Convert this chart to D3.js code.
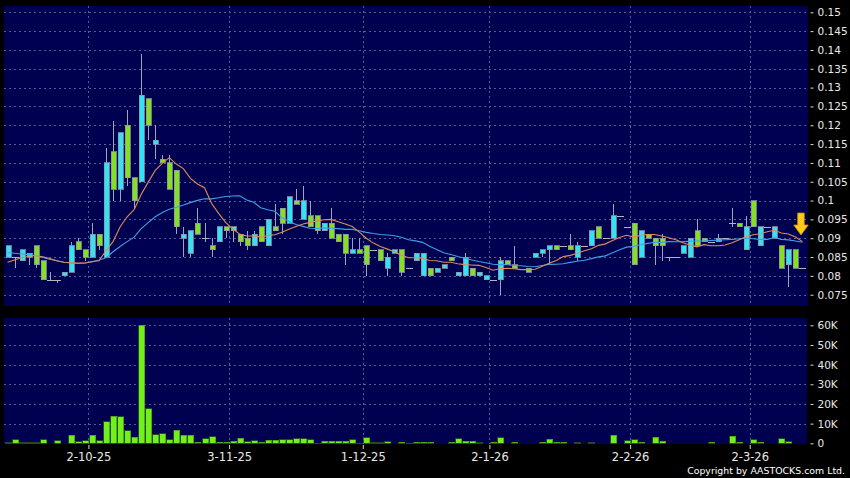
<!DOCTYPE html>
<html>
<head>
<meta charset="utf-8">
<script src="https://cdn.jsdelivr.net/npm/d3@7"></script>
<style>
  html, body { margin: 0; padding: 0; background: #000; }
  svg { display: block; }
</style>
</head>
<body>
<svg id="chart" width="850" height="478"></svg>
<script>
// daily candles (null = no candle that day)
const opens = [
  0.085, 0.085, 0.084, 0.085, 0.088, 0.084, 0.079, 0.079, 0.080, 0.081,
  0.089, 0.087, 0.085, 0.091, 0.085, 0.113, 0.103, 0.120, 0.106, 0.105,
  0.127, 0.115, 0.111, 0.110, 0.108, 0.090, 0.086, 0.094, 0.090, 0.088,
  0.089, 0.093, 0.092, 0.091, 0.090, 0.088, 0.093, 0.088, 0.093, 0.098,
  0.094, 0.100, 0.095, 0.096, 0.096, 0.092, 0.094, 0.091, 0.091, 0.086,
  0.087, 0.088, 0.087, 0.087, 0.082, 0.086, 0.087, 0.082, 0.084, 0.080,
  0.082, 0.081, 0.082, 0.085, 0.080, 0.080, 0.082, 0.080, 0.079, 0.079,
  0.079, 0.084, 0.083, null, 0.082, 0.085, 0.086, 0.087, 0.088, 0.088,
  0.088, 0.085, 0.088, 0.088, 0.093, 0.090, 0.090, 0.096, 0.093, 0.094,
  0.085, 0.091, 0.090, 0.090, 0.085, 0.085, 0.086, 0.085, 0.092, 0.090,
  0.089, 0.089, 0.090, 0.094, 0.094, 0.087, 0.100, 0.088, 0.093, 0.090,
  0.088, 0.083, 0.087, 0.082
];
const highs = [
  0.088, 0.085, 0.087, 0.086, 0.088, 0.084, 0.081, 0.079, 0.081, 0.089,
  0.090, 0.087, 0.094, 0.091, 0.114, 0.121, 0.118, 0.124, 0.106, 0.139,
  0.127, 0.120, 0.112, 0.112, 0.108, 0.093, 0.092, 0.098, 0.094, 0.090,
  0.093, 0.093, 0.093, 0.091, 0.092, 0.092, 0.093, 0.095, 0.099, 0.098,
  0.101, 0.103, 0.104, 0.100, 0.096, 0.094, 0.098, 0.091, 0.091, 0.090,
  0.090, 0.088, 0.087, 0.087, 0.086, 0.087, 0.087, 0.082, 0.086, 0.086,
  0.082, 0.082, 0.083, 0.085, 0.081, 0.086, 0.082, 0.081, 0.080, 0.079,
  0.085, 0.084, 0.088, null, 0.082, 0.086, 0.087, 0.088, 0.088, 0.088,
  0.091, 0.089, 0.088, 0.092, 0.093, 0.090, 0.099, 0.096, 0.093, 0.094,
  0.092, 0.091, 0.090, 0.091, 0.085, 0.085, 0.088, 0.090, 0.095, 0.090,
  0.089, 0.091, 0.090, 0.098, 0.094, 0.096, 0.100, 0.093, 0.093, 0.093,
  0.088, 0.087, 0.087, 0.082
];
const lows = [
  0.085, 0.082, 0.084, 0.083, 0.082, 0.079, 0.079, 0.078, 0.080, 0.081,
  0.087, 0.084, 0.085, 0.087, 0.085, 0.100, 0.100, 0.104, 0.098, 0.105,
  0.116, 0.111, 0.110, 0.103, 0.091, 0.085, 0.085, 0.091, 0.089, 0.085,
  0.089, 0.090, 0.089, 0.088, 0.087, 0.088, 0.089, 0.088, 0.092, 0.091,
  0.094, 0.099, 0.095, 0.093, 0.091, 0.092, 0.090, 0.089, 0.083, 0.086,
  0.086, 0.080, 0.087, 0.084, 0.080, 0.086, 0.080, 0.082, 0.084, 0.080,
  0.080, 0.081, 0.082, 0.084, 0.080, 0.080, 0.080, 0.080, 0.079, 0.079,
  0.075, 0.083, 0.082, null, 0.081, 0.085, 0.085, 0.083, 0.087, 0.088,
  0.087, 0.084, 0.088, 0.088, 0.090, 0.090, 0.090, 0.096, 0.093, 0.083,
  0.085, 0.090, 0.083, 0.084, 0.084, 0.085, 0.086, 0.085, 0.088, 0.089,
  0.089, 0.089, 0.090, 0.093, 0.093, 0.087, 0.093, 0.088, 0.093, 0.090,
  0.082, 0.077, 0.082, 0.082
];
const closes = [
  0.088, 0.085, 0.087, 0.086, 0.083, 0.079, 0.079, 0.079, 0.081, 0.088,
  0.087, 0.085, 0.091, 0.088, 0.110, 0.103, 0.118, 0.106, 0.100, 0.128,
  0.120, 0.116, 0.110, 0.103, 0.093, 0.091, 0.092, 0.091, 0.090, 0.087,
  0.093, 0.092, 0.093, 0.089, 0.088, 0.091, 0.089, 0.095, 0.092, 0.094,
  0.101, 0.099, 0.100, 0.093, 0.092, 0.094, 0.090, 0.089, 0.086, 0.087,
  0.086, 0.083, 0.087, 0.084, 0.085, 0.087, 0.081, 0.082, 0.086, 0.086,
  0.080, 0.082, 0.083, 0.084, 0.081, 0.085, 0.080, 0.081, 0.080, 0.079,
  0.084, 0.083, 0.082, null, 0.081, 0.086, 0.087, 0.088, 0.087, 0.088,
  0.087, 0.088, 0.088, 0.092, 0.090, 0.090, 0.096, 0.096, 0.093, 0.083,
  0.092, 0.090, 0.088, 0.088, 0.085, 0.085, 0.088, 0.090, 0.088, 0.089,
  0.089, 0.090, 0.090, 0.094, 0.093, 0.093, 0.093, 0.093, 0.093, 0.093,
  0.082, 0.087, 0.082, 0.082
];
// volume in thousands of shares
const volumes = [
  0.3, 1.7, 0.3, 0.2, 0.2, 1.7, 0, 1.4, 0, 4.2,
  0.7, 1.2, 4.1, 1.2, 11, 13.7, 13.4, 6.3, 3.2, 60,
  17.5, 4.4, 4.9, 1.9, 6.6, 4.2, 4.2, 0.5, 2.2, 3.4,
  0.5, 0.5, 1.0, 2.5, 0.8, 1.2, 0.5, 1.5, 1.5, 1.9,
  1.9, 2.2, 2.2, 1.7, 0.1, 1.0, 1.0, 1.0, 1.0, 1.7,
  0.1, 2.7, 0.3, 0.3, 0.7, 0, 0.5, 0.1, 0.5, 0.5,
  0.5, 0, 0, 0.5, 2.4, 1.0, 1.0, 0.3, 0, 0.5,
  2.9, 0, 0.5, 0, 0, 0, 0.5, 2.0, 0.5, 0.5,
  0, 0.3, 0, 0.3, 0, 0, 4.1, 0, 1.2, 1.9,
  0.5, 0, 3.2, 1.0, 0, 0, 0, 0, 0, 0,
  0.5, 0, 0, 3.7, 0.5, 0, 1.7, 0.5, 0, 0,
  2.2, 0.7, 0, 0
];
// moving averages before the window is full (history is off the chart)
const ma10Head = [0.0836, 0.0842, 0.0848, 0.0852, 0.0854, 0.0851, 0.0846, 0.0840, 0.0836];
const ma20Head = [
  0.0862, 0.0860, 0.0858, 0.0856, 0.0854, 0.0849, 0.0844, 0.0840, 0.0836, 0.0834,
  0.0833, 0.0834, 0.0837, 0.0842, 0.0848, 0.0864, 0.0878, 0.0891, 0.0903
];

const priceTicks = [0.075, 0.08, 0.085, 0.09, 0.095, 0.1, 0.105, 0.11, 0.115, 0.12, 0.125, 0.13, 0.135, 0.14, 0.145, 0.15];
const volumeTicks = [0, 10, 20, 30, 40, 50, 60];
const dateTickIdx = [12, 32, 51, 69, 89, 106];
const dateTickLabels = ["2-10-25", "3-11-25", "1-12-25", "2-1-26", "2-2-26", "2-3-26"];

const n = closes.length;
const NAVY = "#000050";
const UP = "#33e3f2";
const DOWN = "#84e022";
const VOL = "#72f01c";
const GRID = "#5a5a96";

const svg = d3.select("#chart");
svg.append("rect").attr("width", 850).attr("height", 478).attr("fill", "#000");

const left = 4, right = 808;
const pTop = 6, pBottom = 306;
const vTop = 318, vBottom = 444;

const x = d3.scaleBand().domain(d3.range(n)).range([left, 806]);
const xEdge = d3.scaleLinear().domain([0, n]).range([left, 806]);
const cx = (i) => Math.round(x(i) + x.bandwidth() / 2);

const y = d3.scaleLinear().domain([0.075, 0.15]).range([294.7, 12.3]);
const yv = d3.scaleLinear().domain([0, 60]).range([443.3, 325.3]);

svg.append("rect").attr("x", left).attr("y", pTop).attr("width", right - left).attr("height", pBottom - pTop).attr("fill", NAVY);
svg.append("rect").attr("x", left).attr("y", vTop).attr("width", 803).attr("height", vBottom - vTop).attr("fill", NAVY);

const grid = svg.append("g")
  .attr("stroke", GRID)
  .attr("stroke-width", 1)
  .attr("stroke-dasharray", "2,3")
  .attr("shape-rendering", "crispEdges");

grid.selectAll(".hp")
  .data(priceTicks)
  .enter()
  .append("line")
  .attr("x1", left).attr("x2", right)
  .attr("y1", (d) => Math.round(y(d)) + 0.5)
  .attr("y2", (d) => Math.round(y(d)) + 0.5);

grid.selectAll(".hv")
  .data(volumeTicks.filter((d) => d > 0))
  .enter()
  .append("line")
  .attr("x1", left).attr("x2", 807)
  .attr("y1", (d) => Math.round(yv(d)) + 0.5)
  .attr("y2", (d) => Math.round(yv(d)) + 0.5);

dateTickIdx.forEach((i) => {
  const gx = Math.round(xEdge(i)) + 0.5;
  grid.append("line").attr("x1", gx).attr("x2", gx).attr("y1", pTop).attr("y2", pBottom);
  grid.append("line").attr("x1", gx).attr("x2", gx).attr("y1", vTop).attr("y2", vBottom);
});

// candles
const candles = d3.range(n)
  .filter((i) => closes[i] != null)
  .map((i) => ({ i, o: opens[i], h: highs[i], l: lows[i], c: closes[i] }));

const cg = svg.append("g").attr("shape-rendering", "crispEdges");

cg.selectAll(".wick")
  .data(candles.filter((d) => d.h > d.l))
  .enter()
  .append("line")
  .attr("x1", (d) => cx(d.i) + 0.5)
  .attr("x2", (d) => cx(d.i) + 0.5)
  .attr("y1", (d) => y(d.h))
  .attr("y2", (d) => y(d.l))
  .attr("stroke", "#a4a4b0");

cg.selectAll(".doji")
  .data(candles.filter((d) => d.o === d.c))
  .enter()
  .append("line")
  .attr("x1", (d) => cx(d.i) - 3)
  .attr("x2", (d) => cx(d.i) + 4)
  .attr("y1", (d) => Math.round(y(d.c)) + 0.5)
  .attr("y2", (d) => Math.round(y(d.c)) + 0.5)
  .attr("stroke", "#b4b4c0");

cg.selectAll(".body")
  .data(candles.filter((d) => d.o !== d.c))
  .enter()
  .append("rect")
  .attr("x", (d) => cx(d.i) - 2)
  .attr("y", (d) => y(Math.max(d.o, d.c)))
  .attr("width", 5)
  .attr("height", (d) => Math.abs(y(d.o) - y(d.c)))
  .attr("fill", (d) => (d.c > d.o ? UP : DOWN))
  .attr("stroke", "#8e94a8")
  .attr("stroke-width", 0.8);

// moving averages
const ma = (len, head) =>
  closes.map((c, i) =>
    i < len - 1 ? head[i] : d3.mean(closes.slice(i - len + 1, i + 1)),
  );
const ma10 = ma(10, ma10Head);
const ma20 = ma(20, ma20Head);

const line = d3.line()
  .x((d, i) => x(i) + x.bandwidth() / 2)
  .y((d) => y(d))
  .curve(d3.curveLinear);

svg.append("path").datum(ma20).attr("d", line)
  .attr("fill", "none").attr("stroke", "#3f9fe6").attr("stroke-width", 1.1);
svg.append("path").datum(ma10).attr("d", line)
  .attr("fill", "none").attr("stroke", "#e08a56").attr("stroke-width", 1.1);

// volume bars
svg.append("g")
  .attr("shape-rendering", "crispEdges")
  .selectAll("rect")
  .data(volumes.map((v, i) => ({ i, v })).filter((d) => d.v > 0))
  .enter()
  .append("rect")
  .attr("x", (d) => cx(d.i) - 2.5)
  .attr("y", (d) => yv(d.v))
  .attr("width", 6)
  .attr("height", (d) => yv(0) - yv(d.v))
  .attr("fill", VOL)
  .attr("stroke", "#3c7a10")
  .attr("stroke-width", 0.6);

// marker arrow over the latest session
const ax = x(n - 1) + x.bandwidth() / 2 - 1.5;
svg.append("path")
  .attr("d", `M${ax - 3.3},213 L${ax + 3.3},213 L${ax + 3.3},225 L${ax + 7.3},225 L${ax},235 L${ax - 7.3},225 L${ax - 3.3},225 Z`)
  .attr("fill", "#ffcc1a")
  .attr("stroke", "#c98a00")
  .attr("stroke-width", 0.8);

// axes
const styleAxis = (g, size) => {
  g.select(".domain").remove();
  g.selectAll("line").attr("stroke", "#d8d8d8");
  g.selectAll("text")
    .attr("fill", "#e8e8e8")
    .attr("font-family", "'DejaVu Sans', Verdana, sans-serif")
    .attr("font-size", size);
};

svg.append("g")
  .attr("transform", "translate(810.5,0)")
  .call(
    d3.axisRight(y)
      .tickValues(priceTicks)
      .tickFormat((d) => String(+d.toFixed(3)))
      .tickSize(3)
      .tickPadding(4),
  )
  .call(styleAxis, "10.5px");

svg.append("g")
  .attr("transform", "translate(810.5,0)")
  .call(
    d3.axisRight(yv)
      .tickValues(volumeTicks)
      .tickFormat((d) => (d === 0 ? "0" : d + "K"))
      .tickSize(3)
      .tickPadding(4),
  )
  .call(styleAxis, "10.5px");

svg.append("g")
  .attr("transform", "translate(0,445)")
  .call(
    d3.axisBottom(xEdge)
      .tickValues(dateTickIdx)
      .tickFormat((d, k) => dateTickLabels[k])
      .tickSize(4)
      .tickPadding(4),
  )
  .call(styleAxis, "11.5px");

svg.append("text")
  .attr("x", 845)
  .attr("y", 474)
  .attr("text-anchor", "end")
  .attr("fill", "#ffffff")
  .attr("font-family", "'DejaVu Sans', Verdana, sans-serif")
  .attr("font-size", "9.4px")
  .text("Copyright by AASTOCKS.com Ltd.");
</script>
</body>
</html>
